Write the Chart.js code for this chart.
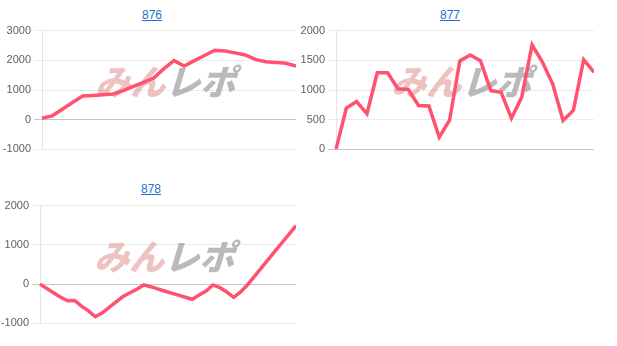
<!DOCTYPE html>
<html>
<head>
<meta charset="utf-8">
<script src="https://cdn.jsdelivr.net/npm/chart.js@4.4.0/dist/chart.umd.min.js"></script>
<style>
  body { margin: 0; background: #fff; font-family: Arial, "Liberation Sans", sans-serif; }
  .ttl { position: absolute; width: 80px; margin-left: -40px; text-align: center; font-size: 12px; }
  .ttl a { color: #1a6fd0; text-decoration: underline; }
  canvas { position: absolute; }
</style>
</head>
<body>
<div class="ttl" style="left:152px; top:8px;"><a href="#">876</a></div>
<div class="ttl" style="left:450px; top:8px;"><a href="#">877</a></div>
<div class="ttl" style="left:151px; top:182px;"><a href="#">878</a></div>
<canvas id="c876" width="296" height="138" style="left:0; top:21px;"></canvas>
<canvas id="c877" width="294" height="138" style="left:300px; top:21px;"></canvas>
<canvas id="c878" width="296" height="137" style="left:0; top:196px;"></canvas>
<script>
  // y tick labels per chart
  const ticks876 = [3000, 2000, 1000, 0, -1000];
  const ticks877 = [2000, 1500, 1000, 500, 0];
  const ticks878 = [2000, 1000, 0, -1000];

  // series values
  const data876 = [50, 130, 350, 580, 795, 813, 837, 868, 980, 1120, 1260, 1400, 1720,
    1990, 1810, 1990, 2160, 2340, 2310, 2250, 2180, 2030, 1950, 1930, 1900, 1810];
  const data877 = [0, 695, 805, 600, 1290, 1290, 1020, 1010, 740, 730, 207, 487, 1490,
    1590, 1495, 990, 960, 525, 880, 1760, 1470, 1100, 487, 655, 1510, 1300];
  const data878 = [0, -110, -225, -335, -425, -415, -560, -680, -830, -730, -590, -450,
    -315, -220, -130, -20, -65, -120, -175, -230, -280, -335, -385, -275, -175, -20,
    -90, -200, -335, -200, -15, 200, 415, 630, 845, 1060, 1275, 1490];

  // hidden x categories (game count index)
  const labels876 = data876.map((v, i) => String(i + 1));
  const labels877 = data877.map((v, i) => String(i + 1));
  const labels878 = data878.map((v, i) => String(i + 1));

  const lineColor = "rgb(255, 82, 112)";

  const watermark = {
    id: "watermark",
    beforeDatasetsDraw(chart) {
      const { ctx, chartArea: a } = chart;
      const cx = (a.left + a.right) / 2;
      const cy = (a.top + a.bottom) / 2 - 8;
      ctx.save();
      ctx.translate(cx, cy);
      ctx.transform(1, 0, -0.3, 1, 0, 0);
      ctx.font = '900 35px "Noto Sans CJK JP"';
      ctx.textBaseline = "middle";
      const w1 = ctx.measureText("みん").width;
      const w2 = ctx.measureText("レポ").width;
      const x = -(w1 + w2) / 2;
      ctx.fillStyle = "rgba(220, 120, 120, 0.45)";
      ctx.fillText("みん", x, 0);
      ctx.fillStyle = "rgba(140, 140, 140, 0.6)";
      ctx.fillText("レポ", x + w1, 0);
      ctx.restore();
    },
  };

  function makeChart(id, labels, values, ticks, axisWidth) {
    const ctx = document.getElementById(id).getContext("2d");
    return new Chart(ctx, {
      type: "line",
      data: {
        labels: labels,
        datasets: [
          {
            data: values,
            fill: false,
            borderColor: lineColor,
            borderWidth: 3.5,
            pointRadius: 0,
            tension: 0,
          },
        ],
      },
      options: {
        responsive: false,
        animation: false,
        layout: { padding: { top: 8, bottom: 8, left: 0, right: 0 } },
        plugins: { legend: { display: false }, tooltip: { enabled: false } },
        scales: {
          x: { display: false },
          y: {
            min: Math.min(...ticks),
            max: Math.max(...ticks),
            afterFit(scale) { scale.width = axisWidth; },
            afterBuildTicks(scale) {
              scale.ticks = ticks.slice().reverse().map((v) => ({ value: v }));
            },
            ticks: {
              color: "#606060",
              font: { family: "Arial, 'Liberation Sans'", size: 11 },
              padding: 3,
              callback: (v) => String(v),
            },
            grid: {
              color: (c) => (c.tick && c.tick.value === 0 ? "rgba(0,0,0,0.22)" : "rgba(0,0,0,0.08)"),
              tickLength: 8,
            },
            border: { color: "rgba(0,0,0,0.1)" },
          },
        },
      },
      plugins: [watermark],
    });
  }

  makeChart("c876", labels876, data876, ticks876, 42);
  makeChart("c877", labels877, data877, ticks877, 36);
  makeChart("c878", labels878, data878, ticks878, 40);
</script>
</body>
</html>
